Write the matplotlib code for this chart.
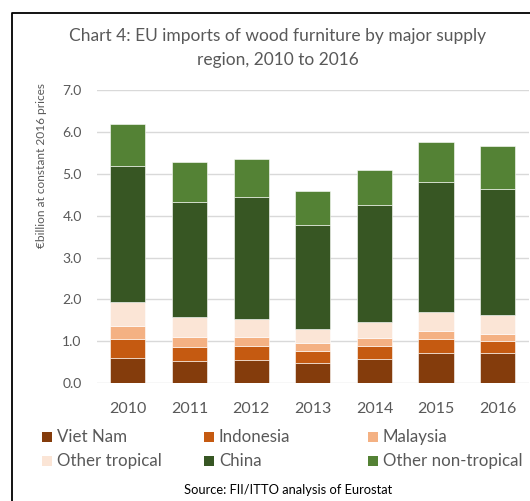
import numpy as np
import matplotlib
matplotlib.use("Agg")
import matplotlib.pyplot as plt
from matplotlib.patches import Rectangle
from matplotlib.lines import Line2D

plt.rcParams["font.family"] = ["Lato", "DejaVu Sans"]

years = ["2010", "2011", "2012", "2013", "2014", "2015", "2016"]
viet_nam = [0.59, 0.53, 0.56, 0.49, 0.58, 0.71, 0.71]
indonesia = [0.46, 0.34, 0.33, 0.28, 0.31, 0.34, 0.30]
malaysia = [0.31, 0.24, 0.22, 0.19, 0.19, 0.19, 0.16]
other_tropical = [0.58, 0.46, 0.43, 0.33, 0.37, 0.45, 0.46]
china = [3.24, 2.75, 2.91, 2.48, 2.81, 3.13, 3.00]
other_non_tropical = [1.01, 0.96, 0.92, 0.83, 0.83, 0.94, 1.04]

series = [
    ("Viet Nam", viet_nam, "#843C0C"),
    ("Indonesia", indonesia, "#C55A11"),
    ("Malaysia", malaysia, "#F4B183"),
    ("Other tropical", other_tropical, "#FBE5D6"),
    ("China", china, "#375623"),
    ("Other non-tropical", other_non_tropical, "#548235"),
]

GREY = "#595959"

fig = plt.figure(figsize=(5.30, 5.01), dpi=100)
ax = fig.add_axes([97 / 530, 1 - 383 / 501, 431.5 / 530, 292.6 / 501])

x = np.arange(len(years))
bottom = np.zeros(len(years))
for name, vals, col in series:
    ax.bar(x, vals, width=0.57, bottom=bottom, color=col,
           edgecolor="#ffffff", linewidth=0.4, zorder=3)
    bottom += np.array(vals)

ax.set_xlim(-0.5, len(years) - 0.5)
ax.set_ylim(0, 7)
ax.set_yticks(np.arange(0, 7.5, 1.0))
ax.set_yticklabels([f"{v:.1f}" for v in np.arange(0, 7.5, 1.0)])
ax.set_xticks(x)
ax.set_xticklabels(years)
ax.tick_params(axis="y", length=0, pad=11, labelsize=10, labelcolor=GREY)
ax.tick_params(axis="x", length=0, pad=14, labelsize=11.5, labelcolor=GREY)
ax.grid(axis="y", color="#D9D9D9", linewidth=1.0, zorder=0)
for s in ax.spines.values():
    s.set_visible(False)

fig.text(42 / 530, 1 - 166 / 501, "€billion at constant 2016 prices",
         rotation=90, ha="center", va="center", fontsize=8.6, color=GREY)

fig.text(278 / 530, 1 - 36 / 501,
         "Chart 4: EU imports of wood furniture by major supply",
         ha="center", va="center", fontsize=12.5, color=GREY)
fig.text(278 / 530, 1 - 60 / 501, "region, 2010 to 2016",
         ha="center", va="center", fontsize=12.5, color=GREY)

# legend laid out by hand in two rows of three
col_x = [42, 204, 368]
row_y = [437, 461]
for i, (name, vals, col) in enumerate(series):
    r, c = divmod(i, 3)
    px, py = col_x[c], row_y[r]
    fig.add_artist(Rectangle((px / 530, 1 - (py + 5) / 501), 10 / 530, 10 / 501,
                             transform=fig.transFigure, facecolor=col,
                             edgecolor="none"))
    fig.text((px + 15) / 530, 1 - py / 501, name, ha="left", va="center",
             fontsize=12.2, color=GREY)

fig.text(288 / 530, 1 - 490 / 501, "Source: FII/ITTO analysis of Eurostat",
         ha="center", va="center", fontsize=9.3, color="black")

# frame lines along the top and left edges
fig.add_artist(Line2D([12 / 530, 12 / 530, 1.0], [0.0, 1 - 13 / 501, 1 - 13 / 501],
                      transform=fig.transFigure, color="black", linewidth=1.3))

fig.savefig("out.png", dpi=100)
